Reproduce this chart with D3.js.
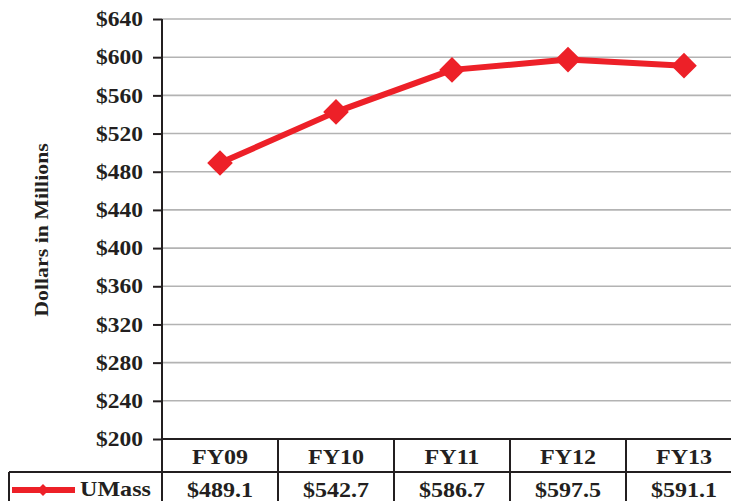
<!DOCTYPE html>
<html><head><meta charset="utf-8">
<script src="https://cdn.jsdelivr.net/npm/d3@7"></script>
<style>body{margin:0;background:#fff}svg{display:block}text{font-family:"Liberation Serif","Times New Roman",serif;font-weight:bold;fill:#231f20}</style>
</head><body>
<svg id="c" width="731" height="501"></svg>
<script>
const categories = ["FY09","FY10","FY11","FY12","FY13"];
const values = [489.1,542.7,586.7,597.5,591.1];
const valueLabels = ["$489.1","$542.7","$586.7","$597.5","$591.1"];
const yTicks = [200,240,280,320,360,400,440,480,520,560,600,640];
const seriesName = "UMass";
const yTitle = "Dollars in Millions";

const svg = d3.select("#c");
const x = d3.scaleBand().domain(categories).range([162,742]);
const y = d3.scaleLinear().domain([200,640]).range([439,19]);
const red = "#ed2028";
const sx = 1.12;

// gridlines
svg.append("g").selectAll("line").data(yTicks.filter(d=>d>200)).join("line")
  .attr("x1",162).attr("x2",731).attr("y1",d=>y(d)).attr("y2",d=>y(d))
  .attr("stroke","#b3b3b3").attr("stroke-width",1.6);

// y axis
const yAxis = d3.axisLeft(y).tickValues(yTicks).tickSize(9).tickPadding(10).tickFormat(d=>"$"+d);
const ga = svg.append("g").attr("transform","translate(162,0)").call(yAxis);
ga.select(".domain").attr("stroke","#231f20").attr("stroke-width",2);
ga.selectAll(".tick line").attr("stroke","#231f20").attr("stroke-width",2);
ga.selectAll(".tick text").attr("font-size",21).attr("fill","#231f20")
  .attr("font-family",'"Liberation Serif",serif').attr("font-weight","bold")
  .each(function(){ const t=d3.select(this); const xx=+t.attr("x"); t.attr("x",null).attr("transform",`translate(${xx},0) scale(${sx},1)`); });
ga.select(".domain").attr("d","M0,19V510");

// axis title
svg.append("text").attr("transform","translate(41,230) rotate(-90) scale(1.15,1)")
  .attr("text-anchor","middle").attr("dy","0.35em").attr("font-size",19).text(yTitle);

// table
const tg = svg.append("g").attr("stroke","#231f20").attr("stroke-width",2);
tg.append("line").attr("x1",162).attr("x2",742).attr("y1",y(200)).attr("y2",y(200));
tg.append("line").attr("x1",9).attr("x2",742).attr("y1",472).attr("y2",472);
tg.append("line").attr("x1",9).attr("x2",9).attr("y1",472).attr("y2",510);
tg.selectAll(".v").data(categories.slice(1)).join("line")
  .attr("x1",d=>x(d)).attr("x2",d=>x(d)).attr("y1",y(200)).attr("y2",510);

svg.selectAll(".hdr").data(categories).join("text")
  .attr("transform",d=>`translate(${x(d)+x.bandwidth()/2},464) scale(${sx},1)`)
  .attr("text-anchor","middle").attr("font-size",21.5).text(d=>d);
svg.selectAll(".val").data(categories).join("text")
  .attr("transform",(d,i)=>`translate(${x(d)+x.bandwidth()/2},497) scale(${sx},1)`)
  .attr("text-anchor","middle").attr("font-size",21.5).text((d,i)=>valueLabels[i]);

// legend
svg.append("line").attr("x1",12).attr("x2",75).attr("y1",490).attr("y2",490).attr("stroke",red).attr("stroke-width",6);
svg.append("path").attr("d",d3.symbol(d3.symbolDiamond2,90)()).attr("transform","translate(43,490)").attr("fill",red);
svg.append("text").attr("transform",`translate(80,496) scale(${sx},1)`).attr("font-size",21.5).text(seriesName);

// line
const pts = categories.map((c,i)=>[x(c)+x.bandwidth()/2, y(values[i])]);
svg.append("path").attr("d",d3.line()(pts)).attr("fill","none").attr("stroke",red).attr("stroke-width",6).attr("stroke-linejoin","round");
svg.selectAll(".mk").data(pts).join("path")
  .attr("d",d3.symbol(d3.symbolDiamond2,420)())
  .attr("transform",d=>`translate(${d[0]},${d[1]})`).attr("fill",red);
</script>
</body></html>
